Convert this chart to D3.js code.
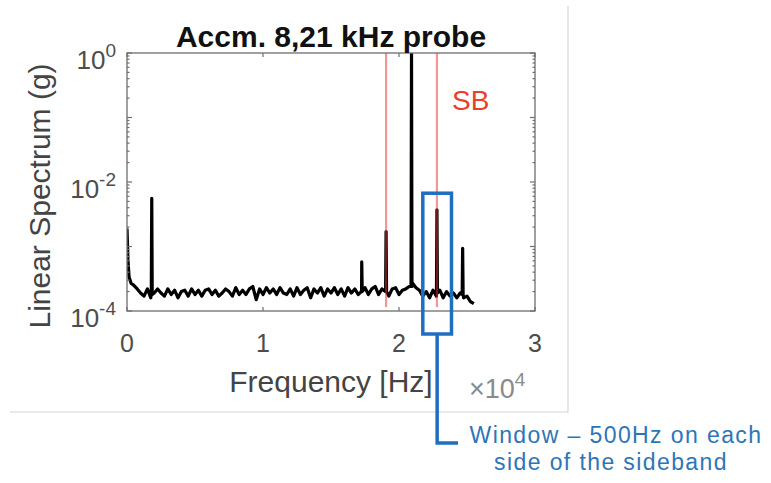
<!DOCTYPE html>
<html>
<head>
<meta charset="utf-8">
<script src="https://cdn.jsdelivr.net/npm/d3@7"></script>
<style>
  html, body { margin: 0; padding: 0; background: #fff; }
  svg { display: block; font-family: "Liberation Sans", Arial, sans-serif; }
</style>
</head>
<body>
<div id="chart"></div>
<script>
// Spectrum (g), low-frequency start
const lowFreq = [0, 70, 150, 300];
const lowValue = [1.9e-3, 6.2e-4, 3.4e-4, 2.7e-4];

// noise floor, one value per 250 Hz bin from 500 Hz to 25500 Hz
const floorStart = 500, floorStep = 250;
const floorValue = [
  2.5e-4, 2.2e-4, 1.9e-4, 1.7e-4, 2.2e-4, 1.6e-4, 1.9e-4, 2.2e-4, 1.9e-4, 1.7e-4,
  2.2e-4, 1.8e-4, 2.1e-4, 1.6e-4, 2.0e-4, 2.1e-4, 1.7e-4, 2.2e-4, 1.8e-4, 2.1e-4,
  1.7e-4, 2.1e-4, 2.2e-4, 1.8e-4, 2.1e-4, 1.7e-4, 1.9e-4, 2.2e-4, 2.0e-4, 1.7e-4,
  2.3e-4, 1.8e-4, 2.1e-4, 1.8e-4, 2.2e-4, 2.4e-4, 1.5e-4, 2.2e-4, 1.8e-4, 2.3e-4,
  1.9e-4, 2.2e-4, 1.8e-4, 2.3e-4, 1.9e-4, 1.8e-4, 2.2e-4, 1.7e-4, 2.3e-4, 1.8e-4,
  2.1e-4, 2.3e-4, 1.6e-4, 2.2e-4, 1.9e-4, 2.3e-4, 1.7e-4, 2.2e-4, 1.9e-4, 2.3e-4,
  1.8e-4, 2.2e-4, 1.7e-4, 2.3e-4, 1.9e-4, 2.2e-4, 1.8e-4, 2.1e-4, 2.3e-4, 1.8e-4,
  2.2e-4, 2.4e-4, 1.8e-4, 2.2e-4, 2.0e-4, 1.7e-4, 2.2e-4, 2.3e-4, 1.8e-4, 2.1e-4,
  2.2e-4, 2.4e-4, 2.7e-4, 2.3e-4, 2.1e-4, 1.7e-4, 2.0e-4, 1.6e-4, 2.1e-4, 1.7e-4,
  2.1e-4, 1.6e-4, 2.0e-4, 1.7e-4, 1.9e-4, 1.6e-4, 1.9e-4, 1.6e-4, 1.7e-4, 1.4e-4,
  1.3e-4
];

// discrete peaks (Hz, g) and the floor level at their feet
const peakFreq = [1820, 17260, 19050, 20920, 22790, 24680];
const peakValue = [5.6e-3, 5.8e-4, 1.7e-3, 1.0, 3.7e-3, 9.4e-4];
const peakFoot = [1.8e-4, 2.0e-4, 2.0e-4, 2.4e-4, 1.9e-4, 1.8e-4];

// sideband markers and the annotated window
const sidebandFreq = [19050, 22790];
const windowFreq = [21750, 23860];

const xTicks = [0, 10000, 20000, 30000];
const yTicks = [1e-4, 1e-2, 1];

const width = 771, height = 483;
const margin = {top: 53, right: 236, bottom: 172, left: 127};

const svg = d3.select('#chart').append('svg')
  .attr('width', width).attr('height', height);

const x = d3.scaleLinear([0, 30000], [margin.left, width - margin.right]);
const y = d3.scaleLog([1e-4, 1], [height - margin.bottom, margin.top]);

// build the spectrum points
let points = lowFreq.map((f, i) => [f, lowValue[i]]);
floorValue.forEach((v, i) => points.push([floorStart + i * floorStep, v]));
peakFreq.forEach((f, i) => {
  points.push([f - 35, peakFoot[i]], [f, peakValue[i]], [f + 35, peakFoot[i]]);
});
points.sort((a, b) => a[0] - b[0]);

// figure frame (right + bottom edges visible)
svg.append('path')
  .attr('d', `M568,6V412H10`)
  .attr('fill', 'none').attr('stroke', '#d6d6d6').attr('stroke-width', 1.2);

svg.append('clipPath').attr('id', 'plot')
  .append('rect')
  .attr('x', x(0)).attr('y', y(1))
  .attr('width', x(30000) - x(0)).attr('height', y(1e-4) - y(1));

// spectrum
svg.append('path')
  .datum(points)
  .attr('clip-path', 'url(#plot)')
  .attr('fill', 'none')
  .attr('stroke', '#000')
  .attr('stroke-width', 3.2)
  .attr('stroke-linejoin', 'round')
  .attr('d', d3.line(d => x(d[0]), d => y(d[1])));

// sideband lines
svg.selectAll('line.sb')
  .data(sidebandFreq)
  .join('line')
  .classed('sb', true)
  .attr('x1', d => x(d)).attr('x2', d => x(d))
  .attr('y1', y(1)).attr('y2', y(1.15e-4))
  .attr('stroke', '#e8302c')
  .attr('stroke-opacity', 0.5)
  .attr('stroke-width', 2.2);

// axes box
const axisColor = '#6e6e6e';
svg.append('rect')
  .attr('x', x(0)).attr('y', y(1))
  .attr('width', x(30000) - x(0)).attr('height', y(1e-4) - y(1))
  .attr('fill', 'none').attr('stroke', axisColor).attr('stroke-width', 1.3);

// x ticks (inward, bottom and top)
const tickG = svg.append('g').attr('stroke', axisColor).attr('stroke-width', 1.2);
xTicks.forEach(t => {
  tickG.append('line').attr('x1', x(t)).attr('x2', x(t)).attr('y1', y(1e-4)).attr('y2', y(1e-4) - 4);
  tickG.append('line').attr('x1', x(t)).attr('x2', x(t)).attr('y1', y(1)).attr('y2', y(1) + 4);
});

// y log ticks (major + minor), inward on both sides
const yAll = [];
[1e-4, 1e-3, 1e-2, 1e-1].forEach(dec => {
  for (let k = 1; k < 10; k++) yAll.push([dec * k, k === 1]);
});
yAll.push([1, true]);
yAll.forEach(([v, major]) => {
  const len = major ? 5 : 2.5;
  tickG.append('line').attr('x1', x(0)).attr('x2', x(0) + len).attr('y1', y(v)).attr('y2', y(v));
  tickG.append('line').attr('x1', x(30000)).attr('x2', x(30000) - len).attr('y1', y(v)).attr('y2', y(v));
});

// x tick labels
svg.append('g').selectAll('text')
  .data(xTicks)
  .join('text')
  .attr('x', d => x(d)).attr('y', y(1e-4) + 41)
  .attr('text-anchor', 'middle')
  .attr('font-size', 25).attr('fill', '#4d4d4d')
  .text(d => d / 10000);

// y tick labels as 10^n
const yLab = svg.append('g').selectAll('text')
  .data(yTicks)
  .join('text')
  .attr('x', x(0) - 11).attr('y', d => y(d) + 16)
  .attr('text-anchor', 'end')
  .attr('font-size', 26).attr('fill', '#4d4d4d');
yLab.append('tspan').text('10');
yLab.append('tspan').attr('dy', -12).attr('font-size', 19)
  .text(d => Math.round(Math.log10(d)) === 0 ? '0' : '-' + Math.abs(Math.round(Math.log10(d))));

// exponent label
const expo = svg.append('text')
  .attr('x', 469).attr('y', 398)
  .attr('font-size', 27).attr('fill', '#8a8a8a');
expo.append('tspan').text('\u00d710');
expo.append('tspan').attr('dy', -12).attr('font-size', 19).text('4');

// title and axis labels
svg.append('text')
  .attr('x', (x(0) + x(30000)) / 2).attr('y', 47)
  .attr('text-anchor', 'middle')
  .attr('font-size', 30).attr('font-weight', 'bold').attr('fill', '#111')
  .text('Accm. 8,21 kHz probe');

svg.append('text')
  .attr('x', (x(0) + x(30000)) / 2).attr('y', 392)
  .attr('text-anchor', 'middle')
  .attr('font-size', 30).attr('fill', '#444')
  .text('Frequency [Hz]');

svg.append('text')
  .attr('transform', `translate(50, 196) rotate(-90)`)
  .attr('text-anchor', 'middle')
  .attr('font-size', 30).attr('fill', '#444')
  .text('Linear Spectrum (g)');

// SB label
svg.append('text')
  .attr('x', x(23900)).attr('y', y(0.13))
  .attr('font-size', 28).attr('fill', '#e8402b')
  .text('SB');

// window annotation
const blue = '#1f6fc1';
const wx0 = x(windowFreq[0]), wx1 = x(windowFreq[1]);
const wTop = y(6.7e-3), wBot = y(1e-4) + 23;
svg.append('rect')
  .attr('x', wx0).attr('y', wTop)
  .attr('width', wx1 - wx0).attr('height', wBot - wTop)
  .attr('fill', 'none').attr('stroke', blue).attr('stroke-width', 3.5);

const cx = (wx0 + wx1) / 2;
svg.append('path')
  .attr('d', `M${cx},${wBot}V443H458`)
  .attr('fill', 'none').attr('stroke', blue).attr('stroke-width', 3.5);

const note = svg.append('text')
  .attr('font-size', 23).attr('fill', '#2e75b6')
  .attr('letter-spacing', 1.4)
  .attr('text-anchor', 'middle');
note.append('tspan').attr('x', 616).attr('y', 443).text('Window \u2013 500Hz on each');
note.append('tspan').attr('x', 611).attr('y', 470).text('side of the sideband');
</script>
</body>
</html>
